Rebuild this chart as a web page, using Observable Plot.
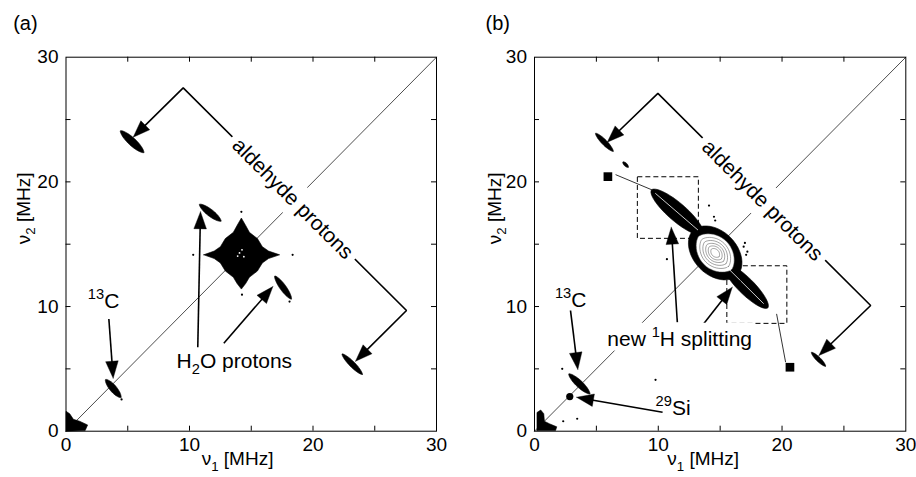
<!DOCTYPE html>
<html><head><meta charset="utf-8">
<script src="https://cdn.jsdelivr.net/npm/d3@7"></script>
<script src="https://cdn.jsdelivr.net/npm/@observablehq/plot@0.6"></script>
<style>
body{margin:0;background:#fff;overflow:hidden}
#wrap{position:relative;width:916px;height:477px;background:#fff}
#wrap svg{position:absolute;top:0}
</style></head><body><div id="wrap"></div>
<script>
// ---------------- data ----------------
const axisTicks = [0, 10, 20, 30];
const minorTicks = [5, 10, 15, 20, 25];
const diagonal = [[0, 0], [30, 30]];
const xTitle = "ν_{1} [MHz]";
const yTitle = "ν_{2} [MHz]";

// Panel (a): peak ridges [v1 start, v2 start, v1 end, v2 end, width] in MHz
const peaksA = [
  [4.4, 24.1, 6.3, 22.35, 0.62],     // aldehyde protons (upper)
  [22.35, 6.2, 24.0, 4.55, 0.45],    // aldehyde protons (lower)
  [10.8, 18.2, 12.55, 16.85, 0.55],  // H2O protons (upper)
  [16.9, 12.45, 18.25, 10.6, 0.5],   // H2O protons (lower)
  [3.2, 4.15, 4.45, 2.7, 0.55]       // 13C
];
const matrixStarA = [
  [11.15,14.15],[12.0,14.45],[12.5,14.8],[12.9,15.45],[13.55,15.95],[13.85,16.5],[14.2,17.1],
  [14.55,16.5],[14.85,15.95],[15.5,15.45],[15.9,14.8],[16.4,14.45],[17.3,14.15],
  [16.4,13.85],[15.9,13.5],[15.5,12.85],[14.85,12.35],[14.55,11.85],[14.2,11.4],
  [13.85,11.85],[13.55,12.35],[12.9,12.85],[12.5,13.5],[12.0,13.85]
];
const originA = [[0,0],[0,1.6],[0.3,1.4],[0.6,0.95],[1.1,0.8],[1.75,0.5],[1.55,0.05]];
const specksA = [[10.3,14.15],[18.35,14.15],[14.2,17.6],[14.25,10.95],[18.1,10.4],[4.5,2.55]];
const holesA = [[14.05,14.3],[14.4,14.0],[14.25,14.55],[13.9,14.05]];
const arrowsA = [[3.47,9.0,3.82,4.25],[10.67,6.74,10.89,17.6],[12.78,7.06,16.75,11.6]];
const bracketA = [[5.44,23.58],[9.49,27.54],[27.57,9.68],[23.44,5.61]];
const labelsA = [
  {text: "^{13}C", x: 1.77, y: 9.9},
  {text: "H_{2}O protons", x: 8.95, y: 5.1}
];
const bracketLabelA = {text: "aldehyde protons", x: 18.36, y: 18.64};

// Panel (b)
const peaksB = [
  [4.93, 23.9, 6.36, 22.45, 0.42],
  [7.14, 21.6, 7.58, 21.17, 0.25],
  [22.37, 6.33, 23.52, 5.21, 0.35],
  [2.77, 4.6, 4.47, 3.0, 0.55]
];
const ridgesB = [[9.45,19.35,13.6,15.8,1.45],[15.3,13.4,18.85,9.9,1.3]];
const centerB = [12.8, 16.1, 16.4, 12.5, 3.5];
const ringScalesB = [0.74, 0.6, 0.48, 0.37, 0.27, 0.17];
const originB = [[0.2,0.05],[0.2,1.5],[0.5,1.7],[0.75,1.4],[0.8,0.8],[1.2,0.6],[1.8,0.35],[1.7,0.05]];
const specksB = [[10.7,13.8],[14.1,18.1],[14.5,17.2],[14.6,16.9],[16.9,14.8],[17.2,14.4],[17.1,14.15],
  [2.32,0.8],[3.45,1.0],[2.24,5.0],[9.78,4.12],[12.9,16.6],[16.6,12.0],[17.0,15.1]];
const squaresB = [[5.93,20.42],[20.64,5.13]];
const leadersB = [[6.55,20.58,9.51,19.35],[19.56,9.41,20.29,5.53]];
const boxesB = [[8.35,13.28,15.43,20.37],[15.58,20.43,8.61,13.23]];
const si29B = [[2.85,2.78]];
const arrowsB = [[2.91,9.68,3.5,4.95],[10.35,1.52,3.4,2.72],[11.54,8.74,11.05,16.36],[13.56,8.48,15.98,11.55]];
const bracketB = [[5.88,23.18],[9.97,27.1],[27.16,10.08],[22.98,6.07]];
const labelsB = [
  {text: "^{13}C", x: 1.65, y: 10.0},
  {text: "^{29}Si", x: 9.78, y: 1.3}
];
const bgLabelsB = [{text: "new ^{1}H splitting", x: 5.88, y: 6.87}];
const bracketLabelB = {text: "aldehyde protons", x: 18.41, y: 18.5};

// ---------------- drawing ----------------
const W = 458, H = 477, MT = 56.7, MB = 46.3;
const FONT = "'Liberation Sans', Arial, Helvetica, sans-serif";

function ellipsePts(seg, scale, ex = 1.3) {
  const [x1,y1,x2,y2,w] = seg, N = 48;
  const cx=(x1+x2)/2, cy=(y1+y2)/2, dx=x2-x1, dy=y2-y1, len=Math.hypot(dx,dy);
  const ux=dx/len, uy=dy/len, nx=-uy, ny=ux, a=len/2*scale, b=w/2*scale;
  return d3.range(N).map(i => {
    const t = 2*Math.PI*i/N, c=Math.cos(t), s=Math.sin(t);
    const p = Math.sign(s)*Math.pow(Math.abs(s), ex);
    return [cx+ux*a*c+nx*b*p, cy+uy*a*c+ny*b*p];
  });
}
const rows = polys => polys.flatMap((p,i) => [...p, p[0]].map(([x,y]) => ({x, y, id: i})));

function head(tail, tip, kx, ky) {
  const L = 17, Wd = 6.3;
  const dx=(tip[0]-tail[0])*kx, dy=(tip[1]-tail[1])*ky, n=Math.hypot(dx,dy);
  const ux=dx/n, uy=dy/n;
  const bx=tip[0]-ux*L/kx, by=tip[1]-uy*L/ky;
  return {
    poly: [tip, [bx - uy*Wd/kx, by + ux*Wd/ky], [bx + uy*Wd/kx, by - ux*Wd/ky]],
    base: [tip[0]-ux*(L-3)/kx, tip[1]-uy*(L-3)/ky]
  };
}

function panel(P) {
  const kx = (W-P.ml-P.mr)/30, ky = (H-MT-MB)/30;
  const tX = 5/ky, tY = 5/kx;
  const heads = [], shafts = [];
  for (const [a1,a2,b1,b2] of P.arrows) {
    const h = head([a1,a2],[b1,b2],kx,ky);
    heads.push(h.poly); shafts.push([a1,a2,h.base[0],h.base[1]]);
  }
  const br = P.bracket;
  const hs = head(br[1], br[0], kx, ky), he = head(br[2], br[3], kx, ky);
  heads.push(hs.poly, he.poly);
  const brLine = [hs.base, br[1], br[2], he.base];
  const blobs = P.peaks.map(s => ellipsePts(s, 1)).concat((P.fat || []).map(s => ellipsePts(s, 1, 1.05)), P.polys);
  const xy = {x: d => d[0], y: d => d[1]};
  const marks = [
    Plot.line(diagonal, {...xy, stroke: "#000", strokeWidth: 0.7}),
    Plot.line(brLine, {...xy, stroke: "#000", strokeWidth: 1.6, strokeLinejoin: "miter"}),
    Plot.link(shafts, {x1: d=>d[0], y1: d=>d[1], x2: d=>d[2], y2: d=>d[3], stroke: "#000", strokeWidth: 1.6}),
    ...(P.extra || []),
    Plot.line(rows(blobs), {x: "x", y: "y", z: "id", fill: "#000", stroke: "#000", strokeWidth: 0.6}),
    ...(P.extraTop || []),
    Plot.dot(P.specks, {...xy, r: 1.1, fill: "#000"}),
    Plot.line(rows(heads), {x: "x", y: "y", z: "id", fill: "#000", stroke: "#000", strokeWidth: 0.4}),
    Plot.text([P.bracketLabel], {x: "x", y: "y", text: "text", rotate: 45, fontSize: 21, ariaLabel: () => "bgtext"}),
    Plot.text(P.labels, {x: "x", y: "y", text: "text", fontSize: 21, textAnchor: "start", lineAnchor: "bottom"}),
    Plot.text(P.bgLabels || [], {x: "x", y: "y", text: "text", fontSize: 21, textAnchor: "start", lineAnchor: "bottom", ariaLabel: () => "bgsmall"}),
    Plot.ruleX(minorTicks, {x: d=>d, y1: 0, y2: tX, stroke: "#000"}),
    Plot.ruleX(minorTicks, {x: d=>d, y1: 30-tX, y2: 30, stroke: "#000"}),
    Plot.ruleY(minorTicks, {y: d=>d, x1: 0, x2: tY, stroke: "#000"}),
    Plot.ruleY(minorTicks, {y: d=>d, x1: 30-tY, x2: 30, stroke: "#000"}),
    Plot.frame({stroke: "#000", strokeWidth: 1}),
    Plot.text([P.letter], {frameAnchor: "top-left", text: d=>d, dx: P.letterDx, dy: -27.7, textAnchor: "start", lineAnchor: "bottom", fontSize: 20}),
    Plot.text([xTitle], {frameAnchor: "bottom", text: d=>d, dx: P.xtDx, dy: 34, lineAnchor: "bottom", fontSize: 19}),
    Plot.text([yTitle], {frameAnchor: "left", text: d=>d, dx: P.ytDx, rotate: -90, lineAnchor: "bottom", fontSize: 19})
  ];
  return Plot.plot({
    width: W, height: H,
    marginLeft: P.ml, marginRight: P.mr, marginTop: MT, marginBottom: MB,
    style: {fontFamily: FONT, fontSize: "19px", color: "#000", background: "#fff", overflow: "visible"},
    x: {domain: [0, 30], ticks: axisTicks, tickSize: 0, tickPadding: 6, label: null, tickFormat: d => String(d)},
    y: {domain: [0, 30], ticks: axisTicks, tickSize: 0, tickPadding: 7.5, label: null, tickFormat: d => String(d)},
    marks
  });
}

const NS = "http://www.w3.org/2000/svg";
function richify(svg) {
  svg.querySelectorAll("text").forEach(el => {
    const s = el.textContent;
    if (!/[\^_]\{/.test(s)) return;
    const F = parseFloat(getComputedStyle(el).fontSize) || 19;
    while (el.firstChild) el.removeChild(el.firstChild);
    let shift = 0;
    const add = (str, kind) => {
      if (!str) return;
      const t = document.createElementNS(NS, "tspan");
      t.textContent = str;
      const target = kind === "^" ? -0.42*F : kind === "_" ? 0.28*F : 0;
      if (target !== shift) t.setAttribute("dy", target - shift);
      shift = target;
      if (kind) t.setAttribute("font-size", 0.7*F);
      el.appendChild(t);
    };
    const re = /([\^_])\{([^}]*)\}/g;
    let last = 0, m;
    while ((m = re.exec(s))) { add(s.slice(last, m.index), null); add(m[2], m[1]); last = re.lastIndex; }
    add(s.slice(last), null);
  });
}
function backgrounds(svg, label, px, py) {
  const found = [];
  svg.querySelectorAll(`[aria-label="${label}"]`).forEach(n => {
    if (n.tagName.toLowerCase() === "text") found.push(n);
    else n.querySelectorAll("text").forEach(t => found.push(t));
  });
  found.forEach(el => {
    const b = el.getBBox();
    const r = document.createElementNS(NS, "rect");
    r.setAttribute("x", b.x - px); r.setAttribute("y", b.y - py);
    r.setAttribute("width", b.width + 2*px); r.setAttribute("height", b.height + 2*py);
    r.setAttribute("fill", "#fff"); r.setAttribute("stroke", "none");
    if (el.getAttribute("transform")) r.setAttribute("transform", el.getAttribute("transform"));
    el.parentNode.insertBefore(r, el);
  });
}

const xy = {x: d => d[0], y: d => d[1]};
const svgA = panel({
  ml: 65.5, mr: 22, letter: "(a)", letterDx: -52.8, xtDx: -13.7, ytDx: -36.5,
  peaks: peaksA, polys: [matrixStarA, originA], specks: specksA,
  arrows: arrowsA, bracket: bracketA, labels: labelsA, bracketLabel: bracketLabelA,
  extraTop: [Plot.dot(holesA, {...xy, r: 0.9, fill: "#fff"})]
});
const ridgeLines = ridgesB.map(([a,b,c,d]) => [[a+(c-a)*0.08, b+(d-b)*0.08],[a+(c-a)*0.9, b+(d-b)*0.9]]);
const svgB = panel({
  ml: 76, mr: 10.7, letter: "(b)", letterDx: -49, xtDx: -17, ytDx: -34,
  peaks: peaksB, fat: ridgesB.concat([centerB]), polys: [originB], specks: specksB,
  arrows: arrowsB, bracket: bracketB, labels: labelsB, bgLabels: bgLabelsB, bracketLabel: bracketLabelB,
  extra: [
    Plot.rect(boxesB, {x1: d=>d[0], x2: d=>d[1], y1: d=>d[2], y2: d=>d[3], fill: "none", stroke: "#000", strokeWidth: 1, strokeDasharray: "5,3"}),
    Plot.link(leadersB, {x1: d=>d[0], y1: d=>d[1], x2: d=>d[2], y2: d=>d[3], stroke: "#000", strokeWidth: 0.8}),
    Plot.dot(squaresB, {...xy, symbol: "square", r: 4.9, fill: "#000"}),
    Plot.dot(si29B, {...xy, r: 3.6, fill: "#000"})
  ],
  extraTop: [
    Plot.line(rows(ringScalesB.map(s => ellipsePts(centerB, s))), {x: "x", y: "y", z: "id", fill: "#fff", stroke: "#444", strokeWidth: 0.5}),
    Plot.line(ridgeLines.flatMap((l,i) => l.map(p => ({x: p[0], y: p[1], id: i}))), {x: "x", y: "y", z: "id", stroke: "#fff", strokeWidth: 0.8})
  ]
});
svgA.style.left = "0px";
svgB.style.left = W + "px";
const wrap = document.getElementById("wrap");
wrap.appendChild(svgA); wrap.appendChild(svgB);
for (const s of [svgA, svgB]) { richify(s); backgrounds(s, "bgtext", 6, 6); backgrounds(s, "bgsmall", 2, 1); }
</script></body></html>
